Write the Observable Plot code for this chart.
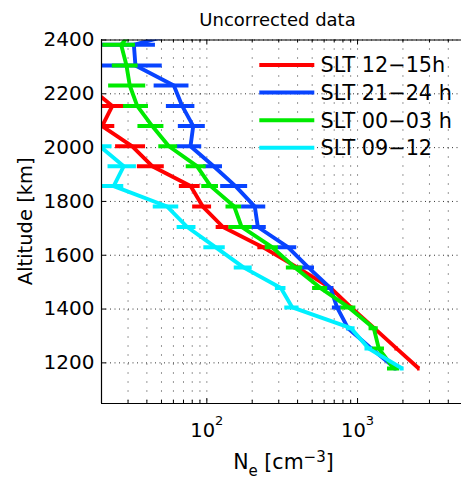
<!DOCTYPE html>
<html>
<head>
<meta charset="utf-8">
<script src="https://cdn.jsdelivr.net/npm/d3@7"></script>
<script src="https://cdn.jsdelivr.net/npm/@observablehq/plot@0.6"></script>
<style>
  html, body { margin: 0; padding: 0; background: #fff; }
</style>
</head>
<body>
<div id="chart"></div>
<script>
// ---- data ----
const altitudeKm = [2457, 2382, 2305, 2231, 2155, 2080, 2005, 1931, 1857, 1781, 1705, 1630, 1554, 1478, 1406, 1329, 1253, 1179];

const neRed    = [null, null, null, 16, 23.6, 20.2, 32, 43.4, 78, 94, 128, 235, 400, 665, 905, 1290, 1820, 2550];
const errRed   = [null, null, null, 3, 5.3, 4.3, 7.2, 8.8, 12.3, 13.5, 12.7, 17, 25, 30, 30, 40, 50, 50];
const neBlue   = [100, 32.8, 33.6, 60.4, 68.6, 81.2, 77.9, 111, 155, 208, 218, 345, 473, 662, 731, 864, 1238, 1786];
const errBlue  = [15, 12.8, 17, 15.7, 14.7, 16.5, 14.6, 16, 31.5, 38, 30, 50, 45, 34, 50, 20, 30, 40];
const neGreen  = [35, 27, 29.3, 30.8, 34.5, 43.4, 56, 86, 106, 152, 170, 271, 385, 568, 875, 1282, 1384, 1740];
const errGreen = [6, 6.6, 5.7, 8.5, 6.5, 8.5, 8, 13, 13.5, 18, 30, 27, 48, 65, 100, 90, 125, 160];
const neCyan   = [null, null, null, null, null, null, 19.5, 28.1, 24.1, 54.6, 74.1, 114, 176, 310, 369, 905, 1188, 1978];
const errCyan  = [null, null, null, null, null, null, 4, 6, 4, 10.5, 10.6, 18.5, 24, 25, 40, 58, 68, 60];

const seriesNames  = ["SLT 12\u221215h", "SLT 21\u221224 h", "SLT 00\u221203 h", "SLT 09\u221212"];
const seriesColors = ["#ff0000", "#0844ff", "#00ea00", "#00f0ff"];
const seriesValues = [neRed, neBlue, neGreen, neCyan];
const seriesErrors = [errRed, errBlue, errGreen, errCyan];

const xMajorTicks = [100, 1000];
const xMinorTicks = [20, 30, 40, 50, 60, 70, 80, 90, 200, 300, 400, 500, 600, 700, 800, 900, 2000, 3000, 4000];
const yTicks = [1200, 1400, 1600, 1800, 2000, 2200, 2400];
const xDomain = [20, 5000];
const yDomain = [1049, 2400];

const titleText = "Uncorrected data";
const xLabelText = "Ne [cm\u22123]";
const yLabelText = "Altitude [km]";

// ---- build table ----
const rows = [];
seriesNames.forEach((name, i) => {
  altitudeKm.forEach((alt, j) => {
    const v = seriesValues[i][j];
    if (v != null) rows.push({series: name, alt, ne: v, err: seriesErrors[i][j]});
  });
});

// ---- layout ----
const W = 461, H = 480, ML = 101, MT = 39.5, MB = 77, MR = 0;
const frameH = H - MT - MB, frameW = W - ML - MR;
const FONT = "DejaVu Sans";

const seriesMarks = seriesNames.flatMap((name) => {
  const d = rows.filter(r => r.series === name);
  return [
    Plot.line(d, {x: "ne", y: "alt", stroke: "series", strokeWidth: 3.9, strokeLinejoin: "miter", strokeLinecap: "butt", clip: true}),
    Plot.ruleY(d, {y: "alt", x1: r => Math.max(r.ne - r.err, 1), x2: r => r.ne + r.err, stroke: "series", strokeWidth: 4, clip: true})
  ];
});

const chart = Plot.plot({
  width: W, height: H,
  marginLeft: ML, marginTop: MT, marginBottom: MB, marginRight: MR,
  style: {fontFamily: FONT, background: "#fff", color: "#000", overflow: "hidden"},
  x: {type: "log", domain: xDomain, range: [ML, 462.4]},
  y: {domain: yDomain},
  color: {domain: seriesNames, range: seriesColors},
  marks: [
    // grid
    Plot.gridX(xMinorTicks.concat(xMajorTicks), {stroke: "#000", strokeOpacity: 0.8, strokeDasharray: "1,8"}),
    Plot.gridY(yTicks, {stroke: "#000", strokeOpacity: 0.8, strokeDasharray: "1,3.5"}),
    // inward ticks
    Plot.tickY(yTicks, {y: d => d, insetRight: frameW - 5, stroke: "#000"}),
    Plot.tickX(xMajorTicks, {x: d => d, insetTop: frameH - 5, stroke: "#000"}),
    Plot.tickX(xMinorTicks, {x: d => d, insetTop: frameH - 3, stroke: "#000"}),
    Plot.tickX(xMajorTicks, {x: d => d, insetBottom: frameH - 5, stroke: "#000"}),
    Plot.tickX(xMinorTicks, {x: d => d, insetBottom: frameH - 3, stroke: "#000"}),
    // data
    ...seriesMarks,
    // frame (left, bottom, top)
    Plot.ruleX([xDomain[0]], {stroke: "#000", strokeWidth: 1.2}),
    Plot.ruleY([yDomain[0]], {stroke: "#000", strokeWidth: 1.2}),
    Plot.ruleY([yDomain[1]], {stroke: "#000", strokeWidth: 1.2}),
    // axes
    Plot.axisY({ticks: yTicks, tickSize: 0, tickPadding: 7, fontSize: 20, label: null, tickFormat: d => String(d)}),
    Plot.axisX({ticks: xMajorTicks, tickSize: 0, tickPadding: 20, fontSize: 19.5, label: null, tickFormat: d => "10^" + Math.round(Math.log10(d))}),
    // titles
    Plot.text([titleText], {frameAnchor: "top-left", dx: 176, dy: -14.5, lineAnchor: "bottom", textAnchor: "middle", fontSize: 18, fill: "#000"}),
    Plot.text([xLabelText], {frameAnchor: "bottom", dx: 2, dy: 65.3, lineAnchor: "bottom", textAnchor: "middle", fontSize: 20.5, fill: "#000"}),
    Plot.text([yLabelText], {frameAnchor: "left", dx: -69.5, dy: -0.5, rotate: -90, lineAnchor: "bottom", textAnchor: "middle", fontSize: 19.5, fill: "#000"})
  ]
});

document.getElementById("chart").appendChild(chart);

// ---- post-process: superscripts / subscripts ----
const svg = d3.select(chart);
svg.selectAll("text").filter(function () { return this.textContent.includes("^"); }).each(function () {
  const t = d3.select(this);
  const [base, exp] = this.textContent.split("^");
  t.text(base);
  t.append("tspan").attr("dy", -12).attr("font-size", 13).text(exp);
});
svg.selectAll("text").filter(function () { return this.textContent === xLabelText; }).each(function () {
  const t = d3.select(this);
  t.text("N");
  t.append("tspan").attr("dy", 7).attr("font-size", 15).text("e");
  t.append("tspan").attr("dy", -7).text(" [cm");
  t.append("tspan").attr("dy", -7).attr("font-size", 15).text("\u22123");
  t.append("tspan").attr("dy", 7).text("]");
});

// ---- legend ----
const lg = svg.append("g").attr("font-family", FONT).attr("font-size", 20.8).attr("fill", "#000").attr("text-anchor", "start");
seriesNames.forEach((name, i) => {
  const y = 65 + i * 27.6;
  lg.append("line").attr("x1", 259.3).attr("x2", 314.3).attr("y1", y).attr("y2", y)
    .attr("stroke", seriesColors[i]).attr("stroke-width", 4);
  lg.append("text").attr("x", 320.5).attr("y", y + 7.4).attr("text-anchor", "start").text(name);
});
</script>
</body>
</html>
